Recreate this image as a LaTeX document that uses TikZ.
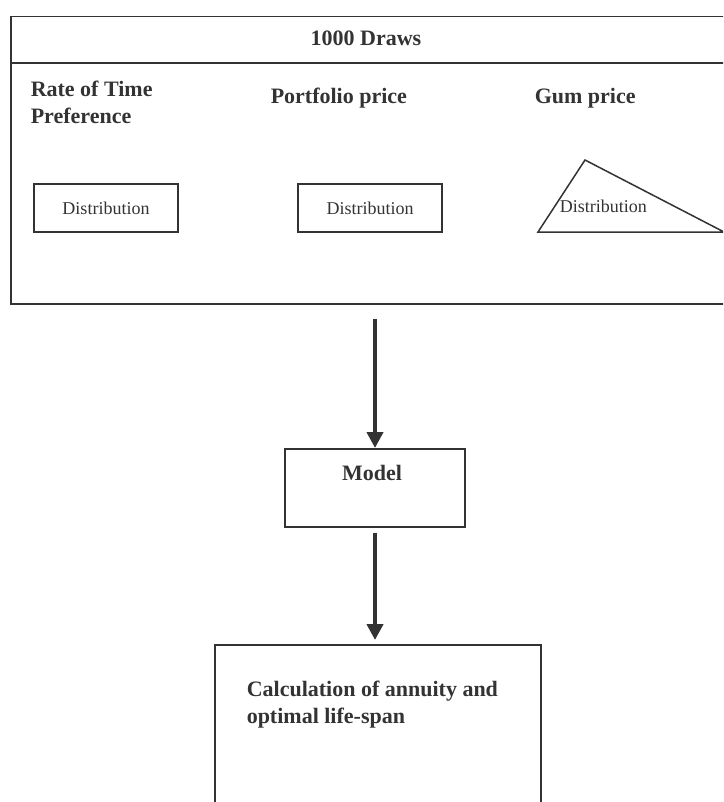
\documentclass[tikz,border=0pt]{standalone}
\usepackage{fontspec}
\setmainfont{Liberation Serif}
\usetikzlibrary{arrows.meta}
\definecolor{ink}{HTML}{333333}

\begin{document}
\begin{tikzpicture}[x=1pt, y=-1pt, color=ink, line width=1.5pt,
    frame/.style={draw, inner sep=0pt},
    head/.style={font=\fontsize{22}{27}\selectfont\bfseries, inner sep=0pt, align=left},
    dist/.style={draw, minimum width=144pt, minimum height=48pt, inner sep=0pt, font=\fontsize{18}{22}\selectfont},
    flow/.style={line width=4pt, -{Triangle[width=16pt,length=16pt]}}]

        \useasboundingbox (0,0) rectangle (723,802);
        \clip (0,0) rectangle (723,802);

        \node[frame, minimum width=723pt, minimum height=287pt, anchor=north west] (draws) at (10,16) {};
        \draw (10,63) -- (733,63);
        \node[head, anchor=base] (title) at (366,46) {1000 Draws};

        \node[head, anchor=north west] (rate) at (30,80) {Rate of Time\\Preference};
        \node[head, anchor=base west] (port) at (270,104) {Portfolio price};
        \node[head, anchor=base west] (gum) at (534,104) {Gum price};

        \node[dist] (d1) at (106,208) {Distribution};
        \node[dist] (d2) at (370,208) {Distribution};
        \draw (538,232) -- (585,160) -- (724,232) -- cycle;
        \node[anchor=base west, inner sep=0pt, font=\fontsize{18}{22}\selectfont] (d3) at (559,213) {Distribution};

        \node[frame, minimum width=180pt, minimum height=78pt, anchor=north] (model) at (375,448) {};
        \node[head, anchor=base] (mlabel) at (372,480) {Model};

        \node[frame, minimum width=326pt, minimum height=200pt, anchor=north west] (calc) at (214,644) {};
        \node[head, anchor=north west] (clabel) at (246,680) {Calculation of annuity and\\optimal life-span};

        \begin{scope}[flow]
        \draw[shorten <=14pt] (draws.south -| model.north) -- (model.north);
        \draw[shorten <=5pt, shorten >=4pt] (model.south) -- (model.south |- calc.north);
        \end{scope}

\end{tikzpicture}
\end{document}
